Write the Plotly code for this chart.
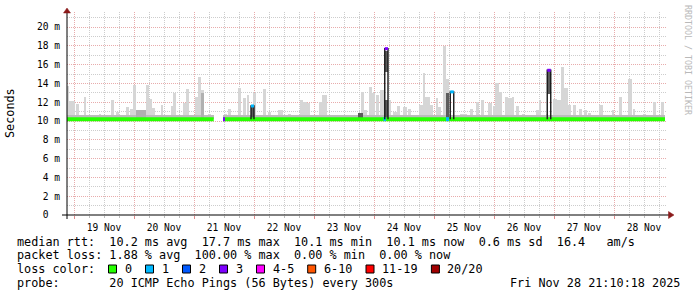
import plotly.graph_objects as go
from datetime import datetime, timedelta

# ---------------- data ----------------
graph_start = datetime(2025, 11, 18, 21, 10, 18)
graph_end = datetime(2025, 11, 28, 21, 10, 18)

y_tick_values = [0, 2, 4, 6, 8, 10, 12, 14, 16, 18, 20]
y_tick_labels = ["0\u00a0\u00a0", "2 m", "4 m", "6 m", "8 m", "10 m", "12 m", "14 m", "16 m", "18 m", "20 m"]

median_rtt_ms = 10.2
median_start_h = [0.0, 62.4]
median_end_h = [58.7, 239.2]
smoke_band_top_ms = 10.6

# light smoke (max of pings), hours after graph start
smoke_start_h = [0.0, 0.8, 3.6, 6.8, 12.8, 17.6, 19.6, 23.6, 25.2, 26.4, 28.4, 31.6, 32.8, 34.0, 37.6,
                 41.6, 42.4, 46.4, 47.6, 51.2, 52.4, 53.6, 56.4,
                 63.2, 64.4, 68.4, 70.4, 72.0, 74.4, 78.4, 80.4, 84.4, 88.4, 93.2, 94.4, 96.0, 100.8,
                 102.0, 109.2, 117.6, 118.8, 120.8, 122.0, 123.6, 125.2, 128.4, 130.4, 132.0, 134.4,
                 136.4, 140.8, 142.4, 143.2, 145.2, 147.6, 148.4, 150.4, 151.6, 157.2, 161.2, 163.6,
                 165.6, 168.4, 170.4, 171.2, 172.8, 175.2, 176.4, 178.0, 179.6, 182.0, 187.6, 188.8,
                 191.6, 194.4, 196.0, 197.6, 198.8, 200.4, 202.4, 204.8, 206.8, 208.4, 212.8, 218.0,
                 220.8, 224.4, 226.4, 230.4, 234.4, 237.6]
smoke_end_h = [0.8, 3.2, 4.8, 7.6, 13.6, 18.8, 20.8, 24.8, 26.4, 27.6, 31.6, 32.8, 34.0, 35.2, 38.4,
               42.4, 43.6, 47.6, 48.8, 52.4, 53.6, 54.8, 57.6,
               64.0, 65.6, 69.6, 71.6, 72.8, 75.6, 79.6, 81.6, 86.4, 89.6, 94.4, 96.0, 97.2, 102.0,
               104.0, 110.4, 118.8, 120.0, 122.0, 123.2, 124.8, 126.8, 129.6, 132.0, 133.2, 136.0,
               137.6, 142.4, 143.2, 145.2, 146.4, 148.4, 149.6, 151.6, 152.8, 160.0, 162.4, 164.8,
               166.8, 170.0, 171.2, 172.8, 174.0, 176.4, 178.0, 178.8, 180.8, 182.8, 188.8, 189.6,
               192.4, 196.0, 197.6, 198.8, 200.4, 201.6, 203.6, 206.0, 208.0, 209.6, 214.4, 218.8,
               222.0, 226.0, 227.2, 231.6, 235.6, 238.8]
smoke_top_ms = [13.7, 12.1, 11.8, 12.6, 10.7, 12.2, 11.0, 11.5, 11.3, 13.8, 11.2, 13.8, 12.3, 11.4, 11.7,
                11.6, 13.0, 11.9, 13.4, 12.6, 14.7, 13.3, 10.7,
                10.8, 11.3, 13.5, 12.4, 12.8, 13.0, 13.4, 11.0, 11.2, 10.8, 12.2, 12.0, 11.9, 12.0,
                12.8, 10.5, 13.1, 11.2, 13.6, 13.0, 12.8, 13.3, 12.2, 11.0, 11.6, 11.5,
                11.3, 11.7, 15.1, 12.6, 11.7, 12.4, 11.5, 18.0, 14.5, 10.8, 11.3, 12.0,
                12.2, 11.9, 11.6, 14.0, 13.1, 12.6, 12.4, 12.6, 11.6, 10.8, 11.2, 12.2,
                10.8, 12.3, 12.2, 15.7, 13.5, 11.7, 11.7, 11.3, 11.2, 10.9, 11.7, 11.2,
                12.6, 14.5, 11.3, 10.8, 12.0, 12.0]

# medium smoke
mid_start_h = [27.6, 53.6]
mid_end_h = [31.6, 54.8]
mid_low_ms = [10.3, 10.3]
mid_high_ms = [11.2, 13.0]

# dark smoke
dark_start_h = [116.4, 73.6, 127.1, 127.1, 151.6, 192.1]
dark_end_h = [118.4, 74.8, 128.4, 128.4, 152.8, 193.5]
dark_low_ms = [10.3, 10.3, 15.2, 10.3, 10.3, 12.9]
dark_high_ms = [10.9, 11.5, 17.5, 12.2, 13.0, 15.3]

# median spikes with packet loss
spike_start_h = [73.6, 127.1, 153.3, 192.1]
spike_end_h = [74.8, 128.4, 154.7, 193.5]
spike_top_ms = [11.6, 17.7, 13.1, 15.4]
spike_loss = ["1", "3", "1", "3"]

# loss-coloured bits of the median at base level
base_loss_start_h = [62.4, 126.6, 151.6]
base_loss_end_h = [63.2, 127.6, 152.8]
base_loss = ["3", "1", "1"]

loss_labels = ["0", "1", "2", "3", "4-5", "6-10", "11-19", "20/20"]
loss_colors = ["#26ff00", "#00b8ff", "#0059ff", "#7e00ff", "#ff00ff", "#ff5500", "#ff0000", "#a10000"]

stats_rtt = "median rtt:  10.2 ms avg  17.7 ms max  10.1 ms min  10.1 ms now  0.6 ms sd  16.4   am/s"
stats_loss = "packet loss: 1.88 % avg  100.00 % max  0.00 % min  0.00 % now"
probe_text = "probe:       20 ICMP Echo Pings (56 Bytes) every 300s"

# ---------------- figure ----------------
W, H = 697, 297
L, R, T, B = 67, 30, 12, 82
PW, PH = W - L - R, H - T - B
Y_MAX = 21.6
MONO = "DejaVu Sans Mono"
loss_color_of = dict(zip(loss_labels, loss_colors))
MAJOR_GRID = "rgb(232,172,172)"
MINOR_GRID = "rgb(205,205,205)"


def t(h):
    return graph_start + timedelta(hours=h)


def fx(px):
    return (px - L) / PW


def fy(py):
    return (H - B - py) / PH


def bar_trace(starts, ends, lows, highs, color):
    return go.Bar(
        x=[t((s + e) / 2) for s, e in zip(starts, ends)],
        y=[hi - lo for lo, hi in zip(lows, highs)],
        base=lows,
        width=[(e - s) * 3600 * 1000 for s, e in zip(starts, ends)],
        marker=dict(color=color, line=dict(width=0)),
        hoverinfo="skip", showlegend=False,
    )


fig = go.Figure()

fig.add_trace(bar_trace(smoke_start_h, smoke_end_h, [median_rtt_ms] * len(smoke_top_ms), smoke_top_ms, "#d6d6d6"))
fig.add_trace(bar_trace(median_start_h, median_end_h, [median_rtt_ms] * 2, [smoke_band_top_ms] * 2, "#bcbcbc"))
fig.add_trace(bar_trace(mid_start_h, mid_end_h, mid_low_ms, mid_high_ms, "#b0b0b0"))
fig.add_trace(bar_trace(dark_start_h, dark_end_h, dark_low_ms, dark_high_ms, "#5c5c5c"))

# median line (0 loss)
mx, my = [], []
for s, e in zip(median_start_h, median_end_h):
    mx += [t(s), t(e), None]
    my += [median_rtt_ms, median_rtt_ms, None]
fig.add_trace(go.Scatter(x=mx, y=my, mode="lines", line=dict(color=loss_color_of["0"], width=4),
                         hoverinfo="skip", showlegend=False))

# loss bits at base
for s, e, lc in zip(base_loss_start_h, base_loss_end_h, base_loss):
    fig.add_trace(go.Scatter(x=[t(s), t(e)], y=[median_rtt_ms, median_rtt_ms], mode="lines",
                             line=dict(color=loss_color_of[lc], width=4), hoverinfo="skip", showlegend=False))

# spikes: black outline and coloured cap
for s, e, top, lc in zip(spike_start_h, spike_end_h, spike_top_ms, spike_loss):
    fig.add_trace(go.Scatter(x=[t(s), t(s), t(e), t(e)], y=[median_rtt_ms, top, top, median_rtt_ms],
                             mode="lines", line=dict(color="#1a1a1a", width=1.4),
                             hoverinfo="skip", showlegend=False))
    fig.add_trace(go.Scatter(x=[t(s), t(e)], y=[top, top], mode="lines",
                             line=dict(color=loss_color_of[lc], width=3), hoverinfo="skip", showlegend=False))

fig.update_layout(
    width=W, height=H,
    margin=dict(l=L, r=R, t=T, b=B, pad=0),
    paper_bgcolor="white", plot_bgcolor="white",
    barmode="overlay", bargap=0,
    showlegend=False,
    font=dict(family=MONO, color="black"),
)

fig.update_xaxes(
    type="date", range=[graph_start, graph_end],
    tick0="2025-11-19 00:00:00", dtick=86400000,
    tickformat="%d %b", ticklabelmode="period",
    tickfont=dict(family=MONO, size=9.6, color="black"),
    ticks="outside", ticklen=3, tickcolor="rgb(222,140,140)", tickwidth=1,
    showgrid=True, gridcolor=MAJOR_GRID, griddash="1px,1px", gridwidth=1,
    minor=dict(tick0="2025-11-19 00:00:00", dtick=6 * 3600000, showgrid=True,
               gridcolor=MINOR_GRID, griddash="1px,1px", gridwidth=1,
               ticks="outside", ticklen=2, tickcolor="rgb(190,190,190)"),
    showline=False, zeroline=False, fixedrange=True,
)

fig.update_yaxes(
    range=[0, Y_MAX],
    tickmode="array", tickvals=y_tick_values, ticktext=y_tick_labels,
    tickfont=dict(family=MONO, size=9.6, color="black"),
    ticks="", ticklabelstandoff=6,
    showgrid=True, gridcolor=MAJOR_GRID, griddash="1px,1px", gridwidth=1,
    minor=dict(tick0=0, dtick=1, showgrid=True, gridcolor=MINOR_GRID,
               griddash="1px,1px", gridwidth=1),
    showline=False, zeroline=False, fixedrange=True,
)

shapes = []
# axes lines
shapes.append(dict(type="line", xref="paper", yref="paper", x0=fx(62), x1=fx(669), y0=fy(215), y1=fy(215),
                   line=dict(color="black", width=1)))
shapes.append(dict(type="line", xref="paper", yref="paper", x0=fx(67), x1=fx(67), y0=fy(219), y1=fy(11),
                   line=dict(color="black", width=1)))
# arrows
arrow_col = "#8b1a1a"
shapes.append(dict(type="path", xref="paper", yref="paper",
                   path=f"M {fx(67)},{fy(8)} L {fx(63.5)},{fy(13)} L {fx(70.5)},{fy(13)} Z",
                   fillcolor=arrow_col, line=dict(color=arrow_col, width=0.5)))
shapes.append(dict(type="path", xref="paper", yref="paper",
                   path=f"M {fx(674)},{fy(215)} L {fx(668.5)},{fy(211.5)} L {fx(668.5)},{fy(218.5)} Z",
                   fillcolor=arrow_col, line=dict(color=arrow_col, width=0.5)))

annotations = []


def ann(text, x_px, y_px, size=11.8, xanchor="left", color="black", angle=0):
    annotations.append(dict(
        text=text.replace(" ", "\u00a0"), x=fx(x_px), y=fy(y_px), xref="paper", yref="paper",
        xanchor=xanchor, yanchor="middle", showarrow=False, textangle=angle,
        font=dict(family=MONO, size=size, color=color), borderpad=0,
    ))


ann(stats_rtt, 16, 241.5)
ann(stats_loss, 16, 255)
ann("loss color:", 16, 269)
ann(probe_text, 16, 283)
ann(graph_end.strftime("%a %b %d %H:%M:%S %Y"), 681, 283, xanchor="right")
ann("Seconds", 10, 113, angle=-90, xanchor="center")
ann("RRDTOOL / TOBI OETIKER", 688, 60, size=8.3, color="rgb(185,185,185)", angle=90, xanchor="center")

# loss colour legend squares
cx = 108.5
for lab, col in zip(loss_labels, loss_colors):
    shapes.append(dict(type="rect", xref="paper", yref="paper", x0=fx(cx), x1=fx(cx + 8),
                       y0=fy(273), y1=fy(265), fillcolor=col, line=dict(color="black", width=1)))
    ann(lab, cx + 15, 269)
    cx += 37 + (len(lab) - 1) * 7.1

fig.update_layout(shapes=shapes, annotations=annotations)

fig.write_html("out.html")
